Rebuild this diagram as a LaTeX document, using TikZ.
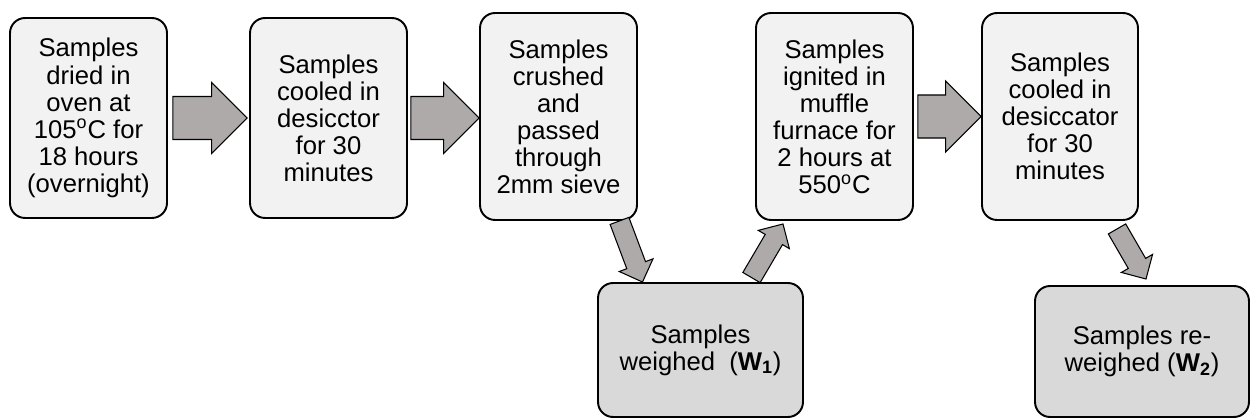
\documentclass[tikz,border=0pt]{standalone}
\usepackage{fontspec}
\setmainfont{Liberation Sans}
\usepackage{xcolor}
\definecolor{stepFill}{HTML}{F2F2F2}
\definecolor{weighFill}{HTML}{D9D9D9}
\definecolor{arrowGray}{HTML}{AEAAAA}
\usepackage{tikz}
\usetikzlibrary{shapes.arrows, calc}

% block arrow laid between two named points
\newcommand{\fatarrow}[3]{%
  \path let \p1=($(#3)-(#2)$), \n1={atan2(\y1,\x1)}, \n2={veclen(\x1,\y1)} in
    node[#1, minimum height=\n2, rotate=\n1, anchor=tail] at (#2) {};%
}

\begin{document}
\begin{tikzpicture}[
  x=0.02cm, y=-0.02cm,
  box/.style={draw, line width=1.1pt, rounded corners=0.3cm, align=center, inner sep=0pt,
    font=\fontsize{14.6}{15.4}\selectfont},
  stepbox/.style={box, fill=stepFill, minimum width=3.14cm},
  weighbox/.style={box, fill=weighFill},
  fat/.style={single arrow, draw, line width=0.6pt, fill=arrowGray, inner xsep=0pt, outer sep=0pt,
    single arrow head indent=0pt},
  widearrow/.style={fat, inner ysep=0.42cm, single arrow head extend=0.28cm},
  thinarrow/.style={fat, inner ysep=0.19cm, single arrow head extend=0.16cm}
]
  \useasboundingbox (0,0) rectangle (1251,418);

  % Row 1: drying through cooling
  \node[stepbox, minimum height=4cm]    at (88.5,118)   (b1) {Samples\\dried in\\oven at\\105\textsuperscript{o}C for\\18 hours\\(overnight)};
  \node[stepbox, minimum height=4cm]    at (328.5,118)  (b2) {Samples\\cooled in\\desicctor\\for 30\\minutes};
  \node[stepbox, minimum height=4.14cm] at (558.5,116.5)(b3) {Samples\\crushed\\and\\passed\\through\\2mm sieve};
  \node[stepbox, minimum height=4.14cm] at (834.5,116.5)(b4) {Samples\\ignited in\\muffle\\furnace for\\2 hours at\\550\textsuperscript{o}C};
  \node[stepbox, minimum height=4.14cm, minimum width=3.12cm] at (1060,116.5)(b5) {Samples\\cooled in\\desiccator\\for 30\\minutes};

  % Row 2: weighing
  \node[weighbox, minimum width=4.1cm, minimum height=2.68cm]  at (700.5,350)  (w1) {Samples\\weighed~~(\textbf{W}\textsubscript{\textbf{1}})};
  \node[weighbox, minimum width=4.28cm, minimum height=2.62cm] at (1142,351.5) (w2) {Samples re-\\weighed (\textbf{W}\textsubscript{\textbf{2}})};

  % arrow ends
  \coordinate (t1) at ($(b1.east)+(5,0)$);
  \coordinate (h1) at ($(b2.west)+(-2,0)$);
  \coordinate (t2) at ($(b2.east)+(3,0)$);
  \coordinate (h2) at (t2 -| b3.west);
  \coordinate (t3) at ($(b4.east)+(4,0)$);
  \coordinate (h3) at (t3 -| b5.west);
  \coordinate (d1t) at ($(b3.south)+(61,0)$);
  \coordinate (d1h) at ($(w1.north)+(-58,0)$);
  \coordinate (d2t) at ($(w1.north)+(51,-4.5)$);
  \coordinate (d2h) at ($(b4.south)+(-51.5,3)$);
  \coordinate (d3t) at ($(b5.south)+(57,8)$);
  \coordinate (d3h) at ($(w2.north)+(4,-6)$);

  \fatarrow{widearrow}{t1}{h1}
  \fatarrow{widearrow}{t2}{h2}
  \fatarrow{widearrow}{t3}{h3}
  \fatarrow{thinarrow}{d1t}{d1h}
  \fatarrow{thinarrow}{d2t}{d2h}
  \fatarrow{thinarrow}{d3t}{d3h}
\end{tikzpicture}
\end{document}
